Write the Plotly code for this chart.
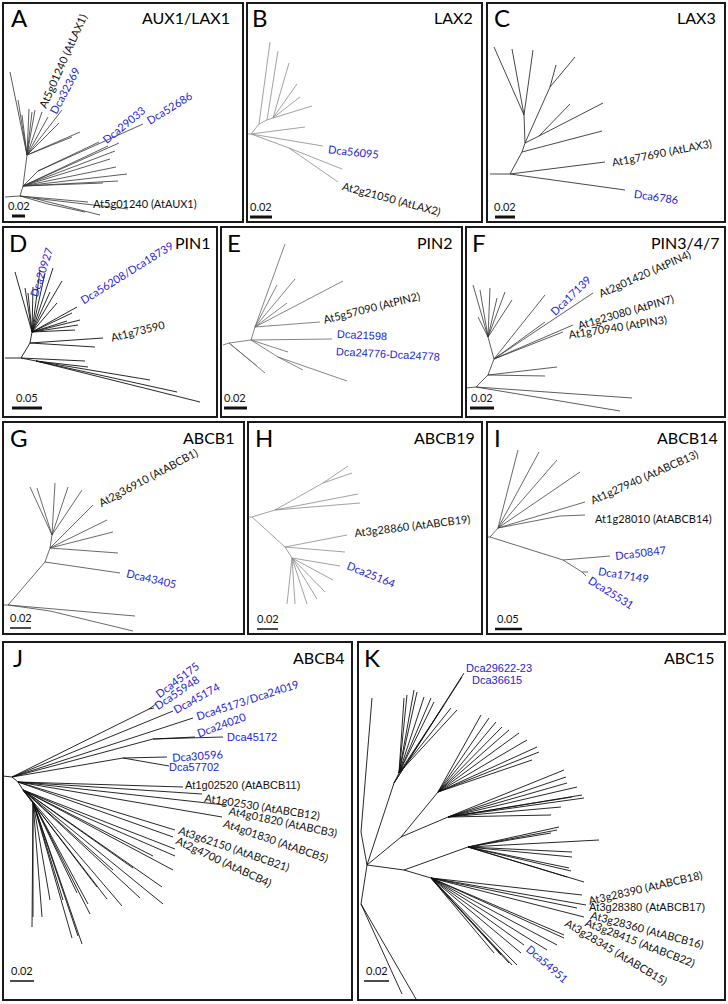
import math
import plotly.graph_objects as go

FIG_W, FIG_H = 728, 1004

# ---------------- DATA ----------------
panel_letters = ["A", "B", "C", "D", "E", "F", "G", "H", "I", "J", "K"]
panel_titles = ["AUX1/LAX1", "LAX2", "LAX3", "PIN1", "PIN2", "PIN3/4/7",
                "ABCB1", "ABCB19", "ABCB14", "ABCB4", "ABC15"]
scale_labels = ["0.02", "0.02", "0.02", "0.05", "0.02", "0.02",
                "0.02", "0.02", "0.05", "0.02", "0.02"]

# tree branches: (hub node, [child nodes]) in panel units
A_tree = [
    ((2, 194), [(17, 193)]),
    ((17, 193), [(85, 199), (30, 195), (45, 201), (20, 183)]),
    ((30, 195), [(125, 206), (97, 212)]),
    ((45, 201), [(82, 209)]),
    ((20, 183), [(124, 171), (115, 178), (100, 180), (113, 164), (107, 156), (112, 148),
                 (105, 143), (116, 140), (35, 168), (24, 152)]),
    ((35, 168), [(96, 139), (140, 121)]),
    ((24, 152), [(7, 69), (15, 97), (19, 112), (26, 106), (29, 109), (32, 107), (39, 109),
                 (45, 114), (59, 107), (77, 129), (69, 134), (56, 120)]),
]
B_tree = [
    ((0, 131), [(4, 131)]),
    ((4, 131), [(12, 121), (58, 124), (76, 143), (42, 145)]),
    ((12, 121), [(23, 39), (20, 117)]),
    ((20, 117), [(31, 48), (26, 115)]),
    ((26, 115), [(42, 60), (50, 81), (53, 94), (65, 103)]),
    ((42, 145), [(95, 166), (91, 179)]),
]
C_tree = [
    ((3, 171), [(23, 171)]),
    ((23, 171), [(118, 159), (138, 187), (35, 149)]),
    ((35, 149), [(115, 128), (38, 140)]),
    ((38, 140), [(52, 133), (63, 84), (37, 112)]),
    ((52, 133), [(116, 100), (83, 101)]),
    ((63, 84), [(88, 54), (69, 62)]),
    ((37, 112), [(7, 44), (25, 46), (46, 47)]),
]
D_tree = [
    ((2, 131), [(18, 131)]),
    ((18, 131), [(33, 134), (82, 134), (27, 116)]),
    ((33, 134), [(197, 175), (174, 165), (147, 153), (85, 140)]),
    ((27, 116), [(92, 120), (100, 111), (29, 105)]),
    ((29, 105), [(77, 93), (75, 98), (72, 103), (74, 80), (69, 86), (64, 94), (59, 54),
                 (50, 41), (42, 46), (37, 43), (25, 66), (22, 61), (12, 45), (30, 60),
                 (47, 65), (54, 76)]),
]
E_tree = [
    ((2, 118), [(8, 116)]),
    ((8, 116), [(30, 113), (44, 146), (36, 139)]),
    ((30, 113), [(57, 130), (67, 125), (111, 112), (34, 100)]),
    ((57, 130), [(126, 154), (82, 143)]),
    ((34, 100), [(99, 95), (122, 54), (74, 52), (64, 17), (56, 58), (66, 76)]),
]
F_tree = [
    ((0, 161), [(10, 160)]),
    ((10, 160), [(166, 171), (154, 184), (22, 148)]),
    ((22, 148), [(79, 149), (91, 140), (28, 132)]),
    ((28, 132), [(79, 95), (127, 66), (107, 98), (97, 105), (79, 68), (22, 110)]),
    ((22, 110), [(7, 58), (14, 63), (24, 61), (31, 71), (39, 65), (46, 73), (12, 90)]),
]
G_tree = [
    ((0, 183), [(5, 183)]),
    ((5, 183), [(132, 194), (47, 189), (42, 140)]),
    ((47, 189), [(130, 209)]),
    ((42, 140), [(117, 151), (47, 126)]),
    ((47, 126), [(115, 131), (110, 110), (104, 98), (90, 83), (49, 113)]),
    ((49, 113), [(79, 68), (65, 65), (52, 61), (34, 66), (27, 65)]),
]
H_tree = [
    ((0, 95), [(4, 95)]),
    ((4, 95), [(27, 88), (37, 125)]),
    ((27, 88), [(75, 61), (110, 72), (112, 81)]),
    ((75, 61), [(100, 44), (104, 51)]),
    ((37, 125), [(99, 113), (97, 130), (44, 136)]),
    ((44, 136), [(92, 144), (85, 158), (77, 170), (69, 177), (59, 182), (47, 182), (39, 182)]),
]
I_tree = [
    ((0, 115), [(3, 115)]),
    ((3, 115), [(11, 106), (76, 138)]),
    ((11, 106), [(31, 28), (52, 30), (70, 38), (93, 50), (98, 80), (73, 94)]),
    ((73, 94), [(98, 93)]),
    ((76, 138), [(123, 134), (95, 150)]),
    ((95, 150), [(101, 150), (99, 154)]),
]
J_tree = [
    ((0, 134), [(9, 135)]),
    ((9, 135), [(146, 67), (170, 69), (190, 76), (150, 97), (120, 116), (15, 140)]),
    ((146, 67), [(153, 62), (151, 66)]),
    ((150, 97), [(192, 95), (220, 95)]),
    ((120, 116), [(164, 115), (166, 124)]),
    ((15, 140), [(180, 145), (199, 152), (222, 163), (219, 175), (172, 188), (170, 195),
                 (20, 148)]),
    ((20, 148), [(172, 207), (172, 214), (170, 228), (159, 245), (160, 262), (137, 256),
                 (119, 264), (104, 257), (150, 214), (130, 226), (110, 228), (94, 245),
                 (30, 160)]),
    ((30, 160), [(87, 272), (85, 262), (79, 302), (75, 294), (69, 296), (47, 258),
                 (39, 275), (30, 275), (29, 285), (60, 258), (74, 251)]),
]
K_tree = [
    ((9, 223), [(3, 190), (3, 262), (36, 141), (43, 195), (46, 228)]),
    ((3, 190), [(14, 56)]),
    ((3, 262), [(44, 352), (58, 357)]),
    ((36, 141), [(106, 31), (104, 35), (41, 131)]),
    ((41, 131), [(46, 56), (49, 53), (56, 48), (59, 50), (66, 55), (73, 56), (76, 60),
                 (86, 63), (93, 66), (99, 68)]),
    ((43, 195), [(80, 150), (90, 175)]),
    ((80, 150), [(123, 73), (131, 76), (138, 80), (144, 85), (151, 88), (161, 91),
                 (169, 98), (179, 105), (181, 110), (174, 118)]),
    ((90, 175), [(206, 128), (208, 135), (209, 141), (219, 145), (224, 153), (226, 156),
                 (214, 155), (203, 165), (193, 173)]),
    ((46, 228), [(110, 205), (73, 236)]),
    ((110, 205), [(201, 185), (199, 188), (193, 191), (241, 198), (214, 210), (214, 215),
                  (211, 226), (213, 229), (226, 240), (209, 235)]),
    ((73, 236), [(224, 253), (228, 263), (219, 266), (226, 275), (206, 293), (206, 296),
                 (199, 303), (189, 308), (166, 303), (159, 323), (154, 323), (151, 321),
                 (143, 313), (136, 311), (163, 311)]),
]
trees = [A_tree, B_tree, C_tree, D_tree, E_tree, F_tree, G_tree, H_tree, I_tree, J_tree, K_tree]

# leaf labels: (text, tip x, tip y, angle, colour group, font group)
A_labels = [("At5g01240 (AtLAX1)", 38, 106, -66, "k", "c"),
            ("Dca32369", 48, 112, -62, "b", "c"),
            ("Dca29033", 99, 139, -39, "b", "c"),
            ("Dca52686", 143, 120, -32, "b", "c"),
            ("At5g01240 (AtAUX1)", 88, 200, 0, "k", "c")]
B_labels = [("Dca56095", 79, 145, 6, "b", "c"),
            ("At2g21050 (AtLAX2)", 94, 181, 15, "k", "c")]
C_labels = [("At1g77690 (AtLAX3)", 123, 160, -11, "k", "c"),
            ("Dca6786", 145, 189, 8, "b", "c")]
D_labels = [("Dca20927", 29, 72, -72, "b", "c"),
            ("Dca56208/Dca18739", 76, 75, -32, "b", "c"),
            ("At1g73590", 106, 111, -14, "k", "c")]
E_labels = [("At5g57090 (AtPIN2)", 100, 94, -14, "k", "c"),
            ("Dca21598", 114, 106, 3, "b", "a"),
            ("Dca24776-Dca24778", 113, 124, 3, "b", "a")]
F_labels = [("Dca17139", 84, 88, -44, "b", "c"),
            ("At2g01420 (AtPIN4)", 131, 68, -24, "k", "c"),
            ("At1g23080 (AtPIN7)", 110, 99, -16, "k", "c"),
            ("At1g70940 (AtPIN3)", 101, 108, -9, "k", "c")]
G_labels = [("At2g36910 (AtABCB1)", 94, 83, -28, "k", "c"),
            ("Dca43405", 122, 150, 13, "b", "c")]
H_labels = [("At3g28860 (AtABCB19)", 104, 111, -7, "k", "c"),
            ("Dca25164", 98, 141, 22, "b", "c")]
I_labels = [("At1g27940 (AtABCB13)", 102, 80, -24, "k", "c"),
            ("At1g28010 (AtABCB14)", 106, 96, 0, "k", "c"),
            ("Dca50847", 126, 134, -7, "b", "c"),
            ("Dca17149", 109, 148, 9, "b", "c"),
            ("Dca25531", 101, 155, 32, "b", "c")]
J_labels = [("Dca45175", 152, 55, -37, "b", "c"),
            ("Dca55948", 150, 66, -34, "b", "c"),
            ("Dca45174", 169, 70, -29, "b", "c"),
            ("Dca45173/Dca24019", 192, 75, -18, "b", "c"),
            ("Dca24020", 192, 93, -20, "b", "c"),
            ("Dca45172", 222, 95, 0, "b", "a"),
            ("Dca30596", 167, 116, -4, "b", "c"),
            ("Dca57702", 164, 125, 0, "b", "a"),
            ("At1g02520 (AtABCB11)", 180, 143, 0, "k", "a"),
            ("At1g02530 (AtABCB12)", 200, 154, 9, "k", "c"),
            ("At4g01820 (AtABCB3)", 224, 167, 12, "k", "c"),
            ("At4g01830 (AtABCB5)", 219, 179, 19, "k", "c"),
            ("At3g62150 (AtABCB21)", 174, 186, 19, "k", "c"),
            ("At2g4700 (AtABCB4)", 172, 196, 25, "k", "c")]
K_labels = [("Dca29622-23", 106, 26, 0, "b", "a"),
            ("Dca36615", 112, 38, 0, "b", "a"),
            ("At3g28390 (AtABCB18)", 228, 260, -13, "k", "c"),
            ("At3g28380 (AtABCB17)", 229, 265, 0, "k", "a"),
            ("At3g28360 (AtABCB16)", 231, 271, 15, "k", "c"),
            ("At3g28415 (AtABCB22)", 226, 278, 21, "k", "c"),
            ("At3g28345 (AtABCB15)", 206, 278, 31, "k", "c"),
            ("Dca54951", 168, 303, 41, "b", "c")]
labels = [A_labels, B_labels, C_labels, D_labels, E_labels, F_labels,
          G_labels, H_labels, I_labels, J_labels, K_labels]

# ---------------- LAYOUT / STYLE ----------------
panel_boxes = [(3, 3, 243, 222), (247, 3, 482, 222), (487, 3, 725, 222),
               (3, 227, 217, 417), (221, 227, 462, 417), (466, 227, 725, 417),
               (3, 422, 244, 634), (248, 422, 482, 634), (487, 422, 725, 634),
               (3, 642, 352, 1000), (358, 642, 725, 1000)]
line_styles = [("#333333", 0.8), ("#8a8a8a", 0.8), ("#333333", 0.9), ("#111111", 0.9),
               ("#666666", 0.8), ("#333333", 0.8), ("#444444", 0.8), ("#8a8a8a", 0.8),
               ("#444444", 0.8), ("#111111", 0.9), ("#111111", 0.9)]
# scale bar: x0, x1, y, thickness
scale_bars = [(9, 22, 213, 3), (3, 25, 214, 3), (8, 28, 214, 3), (9, 39, 181, 3),
              (3, 26, 181, 3), (4, 28, 181, 3), (7, 28, 206, 1.5), (9, 30, 207, 1.5),
              (8, 35, 207, 2.5), (7, 31, 339, 1.5), (6, 31, 339, 1.5)]
title_right = [11, 7, 7, 4, 7, 3, 7, 5, 5, 5, 9]
letter_left = [6, 3, 5, 4, 4, 4, 5, 5, 5, 8, 4]

COLORS = {"k": "#111111", "b": "#2323d6"}
FONTS = {"c": "Lato, 'Open Sans', sans-serif",
         "a": "'Liberation Sans', Arial, sans-serif"}
LABEL_SIZE = 11

fig = go.Figure()
layout_axes = {}
annotations = []
shapes = []

for i, (x0, y0, x1, y1) in enumerate(panel_boxes):
    s = "" if i == 0 else str(i + 1)
    W, H = x1 - x0, y1 - y0
    layout_axes["xaxis" + s] = dict(domain=[x0 / FIG_W, x1 / FIG_W], range=[0, W],
                                    visible=False, fixedrange=True, anchor="y" + s)
    layout_axes["yaxis" + s] = dict(domain=[1 - y1 / FIG_H, 1 - y0 / FIG_H], range=[H, 0],
                                    visible=False, fixedrange=True, anchor="x" + s)
    xr, yr = "x" + s, "y" + s

    # tree
    xs, ys = [], []
    for hub, kids in trees[i]:
        for k in kids:
            xs += [hub[0], k[0], None]
            ys += [hub[1], k[1], None]
    col, lw = line_styles[i]
    fig.add_trace(go.Scatter(x=xs, y=ys, mode="lines", line=dict(color=col, width=lw),
                             xaxis=xr, yaxis=yr, hoverinfo="skip", showlegend=False))

    # scale bar
    bx0, bx1, by, bt = scale_bars[i]
    fig.add_trace(go.Scatter(x=[bx0, bx1], y=[by, by], mode="lines",
                             line=dict(color="#111111", width=bt),
                             xaxis=xr, yaxis=yr, hoverinfo="skip", showlegend=False))
    annotations.append(dict(x=(bx0 + bx1) / 2, y=by - 2, xref=xr, yref=yr, text=scale_labels[i],
                            showarrow=False, xanchor="center", yanchor="bottom",
                            font=dict(family=FONTS["c"], size=11, color="#111111")))

    # border
    shapes.append(dict(type="rect", xref=xr + " domain", yref=yr + " domain",
                       x0=0, x1=1, y0=0, y1=1, line=dict(color="#1a1a1a", width=2)))

    # letter and title
    annotations.append(dict(x=letter_left[i], y=15, xref=xr, yref=yr, text=panel_letters[i],
                            showarrow=False, xanchor="left", yanchor="middle",
                            font=dict(family=FONTS["c"], size=24, color="#000000")))
    annotations.append(dict(x=W - title_right[i], y=15, xref=xr, yref=yr, text=panel_titles[i],
                            showarrow=False, xanchor="right", yanchor="middle",
                            font=dict(family=FONTS["c"], size=16, color="#000000")))

    # leaf labels
    h = LABEL_SIZE * 1.25 + 2
    for text, sx, sy, ang, ck, fk in labels[i]:
        phi = math.radians(abs(ang))
        ax = sx - h / 2 * math.sin(phi)
        if ang < 0:
            ay, yanc = sy + h / 2 * math.cos(phi), "bottom"
        elif ang > 0:
            ay, yanc = sy - h / 2 * math.cos(phi), "top"
        else:
            ay, yanc = sy, "middle"
        annotations.append(dict(x=ax, y=ay, xref=xr, yref=yr, text=text, textangle=ang,
                                showarrow=False, xanchor="left", yanchor=yanc,
                                font=dict(family=FONTS[fk], size=LABEL_SIZE, color=COLORS[ck])))

fig.update_layout(width=FIG_W, height=FIG_H, margin=dict(l=0, r=0, t=0, b=0),
                  paper_bgcolor="white", plot_bgcolor="white",
                  annotations=annotations, shapes=shapes, **layout_axes)
fig.write_html("out.html", config={"displayModeBar": False},
               post_script="document.body.style.margin='0';document.body.style.padding='0';")
